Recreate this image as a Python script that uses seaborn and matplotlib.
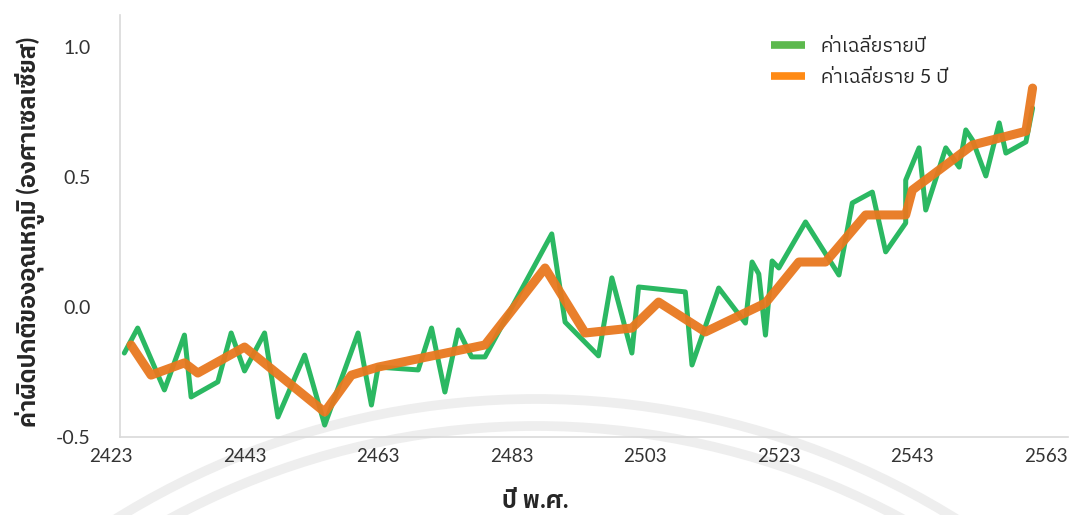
import matplotlib
matplotlib.use("Agg")
import matplotlib.pyplot as plt
from matplotlib import font_manager
from matplotlib.lines import Line2D
from matplotlib.patches import Arc
import seaborn as sns
from fontTools.ttLib import TTFont

# ข้อมูลที่อ่านจากกราฟ (ปี พ.ศ., ค่าผิดปกติ °C)
years_annual = [2425, 2427, 2431, 2434, 2435, 2439, 2441, 2443, 2446, 2448,
                2452, 2455, 2460, 2462, 2463, 2469, 2471, 2473, 2475, 2477,
                2479, 2489, 2491, 2496, 2498, 2501, 2502, 2509, 2510, 2514,
                2518, 2519, 2520, 2521, 2522, 2523, 2527, 2532, 2534, 2537,
                2539, 2542, 2542, 2544, 2545, 2548, 2550, 2551, 2552, 2554,
                2556, 2557, 2560, 2561]
temp_annual = [-0.177, -0.081, -0.319, -0.108, -0.346, -0.288, -0.100, -0.246, -0.100, -0.423,
               -0.185, -0.454, -0.100, -0.377, -0.231, -0.242, -0.081, -0.327, -0.088, -0.192,
               -0.192, 0.281, -0.058, -0.188, 0.112, -0.177, 0.077, 0.058, -0.223, 0.073,
               -0.062, 0.173, 0.127, -0.108, 0.177, 0.150, 0.327, 0.123, 0.400, 0.442,
               0.212, 0.323, 0.488, 0.612, 0.373, 0.612, 0.538, 0.681, 0.642, 0.504,
               0.708, 0.592, 0.635, 0.765]

years_5yr = [2426, 2429, 2434, 2436, 2443, 2455, 2459, 2463, 2479, 2488,
             2494, 2501, 2505, 2512, 2521, 2526, 2530, 2536, 2542, 2543,
             2552, 2560, 2561]
temp_5yr = [-0.146, -0.262, -0.215, -0.254, -0.154, -0.404, -0.262, -0.231, -0.146, 0.150,
            -0.100, -0.081, 0.019, -0.096, 0.015, 0.173, 0.173, 0.354, 0.354, 0.450,
            0.623, 0.676, 0.842]

x_ticks = [2423, 2443, 2463, 2483, 2503, 2523, 2543, 2563]
y_ticks = [-0.5, 0.0, 0.5, 1.0]

label_annual = "ค่าเฉลี่ยรายปี"
label_5yr = "ค่าเฉลี่ยราย 5 ปี"
x_title = "ปี พ.ศ."
y_title = "ค่าผิดปกติของอุณหภูมิ (องศาเซลเซียส)"


def find_thai_font():
    found = []
    for fe in font_manager.fontManager.ttflist:
        try:
            cmap = TTFont(fe.fname, fontNumber=0, lazy=True).getBestCmap() or {}
        except Exception:
            continue
        if 0x0E04 in cmap and 0x0E35 in cmap:
            found.append(fe.name)
    if not found:
        return "DejaVu Sans"
    found.sort(key=lambda n: (0 if "Sans" in n else 1, n))
    return found[0]


sns.set_style("white")
thai = find_thai_font()
fonts = ["Lato", thai, "DejaVu Sans"]
plt.rcParams["font.family"] = fonts

fig = plt.figure(figsize=(10.7, 5.15), dpi=100)
ax = fig.add_axes([110.3 / 1070, 78 / 515, (1068 - 110.3) / 1070, 422 / 515])
ax.patch.set_alpha(0)

# ลายน้ำจาง ๆ ด้านล่าง
for r in (796, 769):
    fig.add_artist(Arc((536 / 1070, -680 / 515), 2 * r / 1070, 2 * r / 515,
                       transform=fig.transFigure, lw=7, color="#eeeeee", zorder=-1))

sns.lineplot(x=years_annual, y=temp_annual, estimator=None, sort=False, ax=ax,
             color="#1fb45a", linewidth=3.6, alpha=0.95, legend=False)
sns.lineplot(x=years_5yr, y=temp_5yr, estimator=None, sort=False, ax=ax,
             color="#e8781f", linewidth=6.5, alpha=0.95, legend=False)

x_left = 2424.35
x_right = 2566.3
ax.set_xlim(2422.9, x_right)
ax.set_ylim(-0.5, 1.123)
ax.set_xticks(x_ticks, labels=[str(v) for v in x_ticks])
ax.set_yticks(y_ticks, labels=[f"{v:.1f}" for v in y_ticks])
ax.set_xlabel("")
ax.set_ylabel("")

for s in ["top", "right"]:
    ax.spines[s].set_visible(False)
for s in ["left", "bottom"]:
    ax.spines[s].set_color("#d9d9d9")
    ax.spines[s].set_linewidth(1.2)
ax.spines["left"].set_position(("data", x_left))
ax.spines["bottom"].set_bounds(x_left, x_right)

ax.tick_params(axis="y", length=0, pad=21, labelsize=14, labelcolor="#333333")
ax.tick_params(axis="x", length=0, pad=8, labelsize=13.5, labelcolor="#333333")

handles = [Line2D([], [], color="#5cb94d", lw=5.5, solid_capstyle="butt"),
           Line2D([], [], color="#ff8a14", lw=5.5, solid_capstyle="butt")]
fig.legend(handles, [label_annual, label_5yr], loc="upper left",
           bbox_to_anchor=(771 / 1070, 1 - 38 / 515), frameon=False,
           borderpad=0, borderaxespad=0, fontsize=14, handlelength=1.75,
           handletextpad=0.8, labelspacing=0.7, labelcolor="#262626")

fig.text(535 / 1070, 1 - 500 / 515, x_title, ha="center", va="center",
         fontsize=17, fontweight="bold", color="#262626")
fig.text(30 / 1070, 1 - 232 / 515, y_title, ha="center", va="center",
         rotation=90, fontsize=17, fontweight="bold", color="#262626")

fig.savefig("out.png", dpi=100)
